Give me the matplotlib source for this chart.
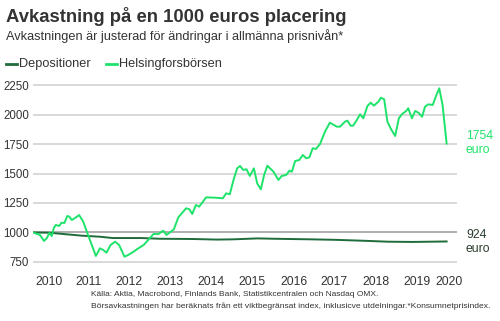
import matplotlib
matplotlib.use("Agg")
import matplotlib.pyplot as plt
from matplotlib.lines import Line2D

plt.rcParams['font.family'] = ['Liberation Sans', 'DejaVu Sans']

# ---- data ----
bors_t = [2010.10, 2010.27, 2010.37, 2010.44, 2010.50, 2010.56, 2010.61, 2010.66, 2010.74, 2010.80,
          2010.87, 2010.94, 2010.99, 2011.05, 2011.13, 2011.23, 2011.33, 2011.43, 2011.54, 2011.64,
          2011.74, 2011.82, 2011.90, 2012.00, 2012.11, 2012.21, 2012.34, 2012.43, 2012.56, 2012.68,
          2012.81, 2012.92, 2013.05, 2013.17, 2013.29, 2013.37, 2013.55, 2013.66, 2013.85, 2013.93,
          2014.00, 2014.09, 2014.17, 2014.34, 2014.56, 2014.75, 2014.83, 2014.92, 2015.01, 2015.10,
          2015.17, 2015.25, 2015.33, 2015.41, 2015.51, 2015.59, 2015.68, 2015.76, 2015.84, 2015.99,
          2016.11, 2016.19, 2016.30, 2016.38, 2016.44, 2016.52, 2016.62, 2016.71, 2016.79, 2016.87,
          2016.95, 2017.03, 2017.13, 2017.25, 2017.37, 2017.54, 2017.62, 2017.74, 2017.80, 2017.88,
          2017.94, 2018.03, 2018.11, 2018.19, 2018.29, 2018.37, 2018.45, 2018.56, 2018.62, 2018.70,
          2018.78, 2018.87, 2018.97, 2019.06, 2019.14, 2019.24, 2019.29, 2019.38, 2019.46, 2019.54,
          2019.63, 2019.70, 2019.78, 2019.89, 2019.97, 2020.05, 2020.13, 2020.23]
bors_v = [1000, 979, 928, 953, 996, 970, 1038, 1064, 1055, 1083,
          1081, 1140, 1134, 1106, 1123, 1148, 1092, 996, 894, 801,
          866, 852, 829, 894, 922, 894, 795, 809, 837, 866,
          894, 936, 987, 987, 1015, 979, 1027, 1129, 1205, 1197,
          1157, 1233, 1219, 1298, 1295, 1290, 1332, 1324, 1445, 1544,
          1564, 1530, 1536, 1479, 1544, 1417, 1366, 1487, 1566, 1515,
          1445, 1479, 1487, 1524, 1515, 1606, 1614, 1657, 1629, 1637,
          1714, 1708, 1750, 1854, 1931, 1897, 1897, 1939, 1948, 1905,
          1905, 1953, 2002, 1968, 2072, 2100, 2075, 2109, 2142, 2129,
          1939, 1875, 1818, 1968, 2004, 2030, 2053, 1968, 2030, 2015,
          1981, 2066, 2086, 2081, 2157, 2222, 2081, 1754]

dep_t = [2010.10, 2010.50, 2010.85, 2011.30, 2011.75, 2012.05, 2012.75, 2013.20, 2014.00,
         2014.60, 2015.00, 2015.60, 2016.00, 2016.90, 2017.50, 2018.20, 2018.80, 2019.40, 2020.23]
dep_v = [1000, 998, 987, 973, 964, 953, 953, 947, 945,
         940, 942, 950, 947, 942, 938, 930, 922, 920, 924]

year_labels = ['2010', '2011', '2012', '2013', '2014', '2015', '2016', '2017', '2018', '2019', '2020']
year_pos = [2010.5, 2011.46, 2012.46, 2013.46, 2014.47, 2015.47, 2016.49, 2017.47, 2018.49, 2019.5, 2020.29]
y_ticks = [750, 1000, 1250, 1500, 1750, 2000, 2250]

GREEN = '#1ee36a'
DARK = '#1e6b3c'
TXT = '#333333'

fig = plt.figure(figsize=(5.0, 3.21), dpi=100)
ax = fig.add_axes([0.066, 0.1783, 0.848, 0.5624])

for yv in y_ticks:
    ax.axhline(yv, color='#a8a8a8' if yv == 1000 else '#d6d6d6', lw=1.3, zorder=1)

ax.plot(dep_t, dep_v, color=DARK, lw=1.4, zorder=3)
ax.plot(bors_t, bors_v, color=GREEN, lw=1.4, zorder=4)

ax.set_xlim(2010.1, 2020.484)
ax.set_ylim(735, 2265)
ax.set_yticks(y_ticks)
ax.set_yticklabels([str(v) for v in y_ticks])
ax.set_xticks(year_pos)
ax.set_xticklabels(year_labels)
ax.tick_params(length=0, labelcolor=TXT)
ax.tick_params(axis='y', pad=3, labelsize=8.3)
ax.tick_params(axis='x', pad=9, labelsize=8.8)
for s in ax.spines.values():
    s.set_visible(False)

# end labels
fs_end = 8.8
fig.text(466 / 500, 1 - 136 / 321, '1754', color=GREEN, fontsize=fs_end, va='center', ha='left')
fig.text(466 / 500, 1 - 150 / 321, 'euro', color=GREEN, fontsize=fs_end, va='center', ha='left')
fig.text(466 / 500, 1 - 235 / 321, '924', color='#2a3d2e', fontsize=fs_end, va='center', ha='left')
fig.text(466 / 500, 1 - 248.5 / 321, 'euro', color='#2a3d2e', fontsize=fs_end, va='center', ha='left')

# title and subtitle
fig.text(6 / 500, 1 - 17 / 321, 'Avkastning på en 1000 euros placering', fontsize=13.3,
         fontweight='bold', color=TXT, va='center', ha='left')
fig.text(6 / 500, 1 - 36 / 321, 'Avkastningen är justerad för ändringar i allmänna prisnivån*',
         fontsize=9.2, color=TXT, va='center', ha='left')

# legend
ly = 1 - 63.5 / 321
fs_leg = 9.2
fig.add_artist(Line2D([6 / 500, 17 / 500], [ly, ly], color=DARK, lw=2))
fig.text(19 / 500, ly, 'Depositioner', fontsize=fs_leg, color=TXT, va='center', ha='left')
fig.add_artist(Line2D([106 / 500, 117 / 500], [ly, ly], color=GREEN, lw=2))
fig.text(119 / 500, ly, 'Helsingforsbörsen', fontsize=fs_leg, color=TXT, va='center', ha='left')

# source
fig.text(91 / 500, 1 - 294 / 321,
         'Källa: Aktia, Macrobond, Finlands Bank, Statistikcentralen och Nasdaq OMX.',
         fontsize=6.0, color=TXT, va='center', ha='left')
fig.text(91 / 500, 1 - 306.5 / 321,
         'Börsavkastningen har beräknats från ett viktbegränsat index, inklusicve utdelningar.*Konsumnetprisindex.',
         fontsize=6.1, color=TXT, va='center', ha='left')

fig.savefig('out.png', dpi=100)
